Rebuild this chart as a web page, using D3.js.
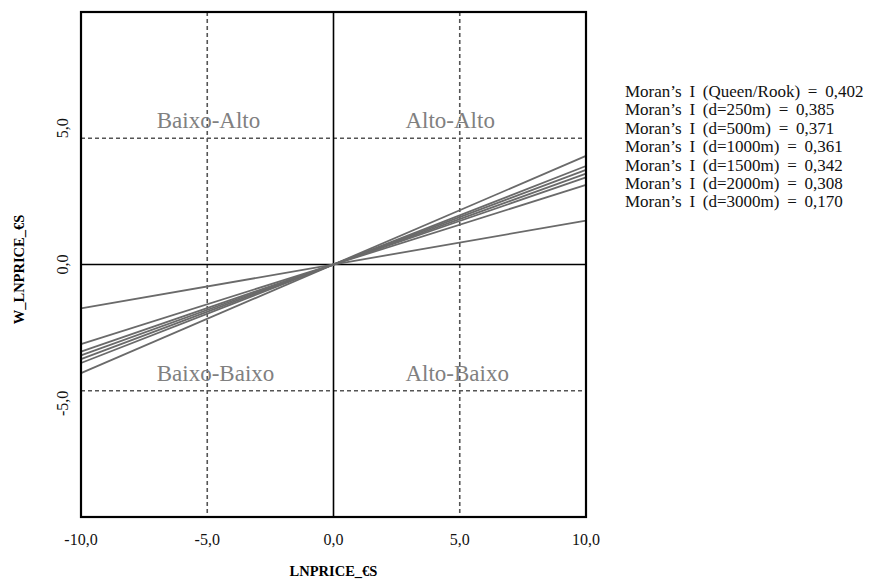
<!DOCTYPE html>
<html>
<head>
<meta charset="utf-8">
<script src="https://cdn.jsdelivr.net/npm/d3@7"></script>
<style>
  body { margin: 0; background: #fff; }
  text { font-family: "Liberation Serif", "DejaVu Serif", serif; }
</style>
</head>
<body>
<div id="chart"></div>
<script>
// values
const weightNames = ["Queen/Rook", "d=250m", "d=500m", "d=1000m", "d=1500m", "d=2000m", "d=3000m"];
const moranValues = [0.402, 0.385, 0.371, 0.361, 0.342, 0.308, 0.170];
// slopes of the drawn regression lines (estimated from the plot)
const lineSlopes = [0.43, 0.39, 0.375, 0.36, 0.345, 0.315, 0.174];
const xTicks = [-10, -5, 0, 5, 10];
const yTicks = [-5, 0, 5];
const cutoffs = [-5, 5];
const quadrants = [
  { name: "Baixo-Alto", qx: -1, qy: 1 },
  { name: "Alto-Alto", qx: 1, qy: 1 },
  { name: "Baixo-Baixo", qx: -1, qy: -1 },
  { name: "Alto-Baixo", qx: 1, qy: -1 }
];

const width = 875;
const height = 581;
const plotLeft = 81, plotRight = 586, plotTop = 12, plotBottom = 517;

const locale = d3.formatLocale({ decimal: ",", thousands: ".", grouping: [3], currency: ["", "€"], minus: "-" });
const fmt1 = locale.format(".1f");
const fmt3 = locale.format(".3f");

let x = d3.scaleLinear().domain([-10, 10]).range([plotLeft, plotRight]);
let y = d3.scaleLinear().domain([-10, 10]).range([plotBottom, plotTop]);

let svg = d3.select("#chart")
  .append("svg")
  .attr("width", width)
  .attr("height", height);

// dashed cut-off lines
let grid = svg.append("g")
  .attr("stroke", "#555")
  .attr("stroke-width", 1.6)
  .attr("stroke-dasharray", "4,3");

grid.selectAll("line.v")
  .data(cutoffs)
  .join("line")
  .attr("class", "v")
  .attr("x1", d => x(d)).attr("x2", d => x(d))
  .attr("y1", plotTop).attr("y2", plotBottom);

grid.selectAll("line.h")
  .data(cutoffs)
  .join("line")
  .attr("class", "h")
  .attr("x1", plotLeft).attr("x2", plotRight)
  .attr("y1", d => y(d)).attr("y2", d => y(d));

// quadrant labels
svg.append("g")
  .selectAll("text")
  .data(quadrants)
  .join("text")
  .attr("x", d => d.qx < 0 ? x(-7.0) : x(2.85))
  .attr("y", d => d.qy > 0 ? y(5) - 10 : y(-5) - 10)
  .attr("font-size", "23px")
  .attr("fill", "#808080")
  .text(d => d.name);

// zero axes
svg.append("line")
  .attr("x1", x(0)).attr("x2", x(0))
  .attr("y1", plotTop).attr("y2", plotBottom)
  .attr("stroke", "#000").attr("stroke-width", 1.6);
svg.append("line")
  .attr("x1", plotLeft).attr("x2", plotRight)
  .attr("y1", y(0)).attr("y2", y(0))
  .attr("stroke", "#000").attr("stroke-width", 1.6);

// regression lines through the origin
svg.append("g")
  .selectAll("line")
  .data(lineSlopes)
  .join("line")
  .attr("x1", x(-10)).attr("y1", d => y(-10 * d))
  .attr("x2", x(10)).attr("y2", d => y(10 * d))
  .attr("stroke", "#6a6a6a")
  .attr("stroke-width", 1.8);

// frame
svg.append("rect")
  .attr("x", plotLeft).attr("y", plotTop)
  .attr("width", plotRight - plotLeft).attr("height", plotBottom - plotTop)
  .attr("fill", "none")
  .attr("stroke", "#000")
  .attr("stroke-width", 2.2);

// x tick labels
svg.append("g")
  .selectAll("text")
  .data(xTicks)
  .join("text")
  .attr("x", d => x(d))
  .attr("y", 545)
  .attr("text-anchor", "middle")
  .attr("font-size", "16px")
  .attr("fill", "#111")
  .text(d => fmt1(d));

// y tick labels (rotated)
svg.append("g")
  .selectAll("text")
  .data(yTicks)
  .join("text")
  .attr("transform", d => "translate(68," + y(d) + ") rotate(-90)")
  .attr("text-anchor", d => d > 0 ? "start" : d < 0 ? "end" : "middle")
  .attr("font-size", "16px")
  .attr("fill", "#111")
  .text(d => fmt1(d));

// axis titles
svg.append("text")
  .attr("x", x(0))
  .attr("y", 576)
  .attr("text-anchor", "middle")
  .attr("font-size", "14.5px")
  .attr("font-weight", "bold")
  .text("LNPRICE_€S");

svg.append("text")
  .attr("transform", "translate(24," + (y(0) + 5) + ") rotate(-90)")
  .attr("text-anchor", "middle")
  .attr("font-size", "14.5px")
  .attr("font-weight", "bold")
  .text("W_LNPRICE_€S");

// Moran's I list
svg.append("g")
  .selectAll("text")
  .data(weightNames)
  .join("text")
  .attr("x", 625)
  .attr("y", (d, i) => 97 + i * 18.4)
  .attr("font-size", "17px")
  .attr("word-spacing", "3.5px")
  .attr("fill", "#111")
  .text((d, i) => "Moran’s I (" + d + ") = " + fmt3(moranValues[i]));
</script>
</body>
</html>
